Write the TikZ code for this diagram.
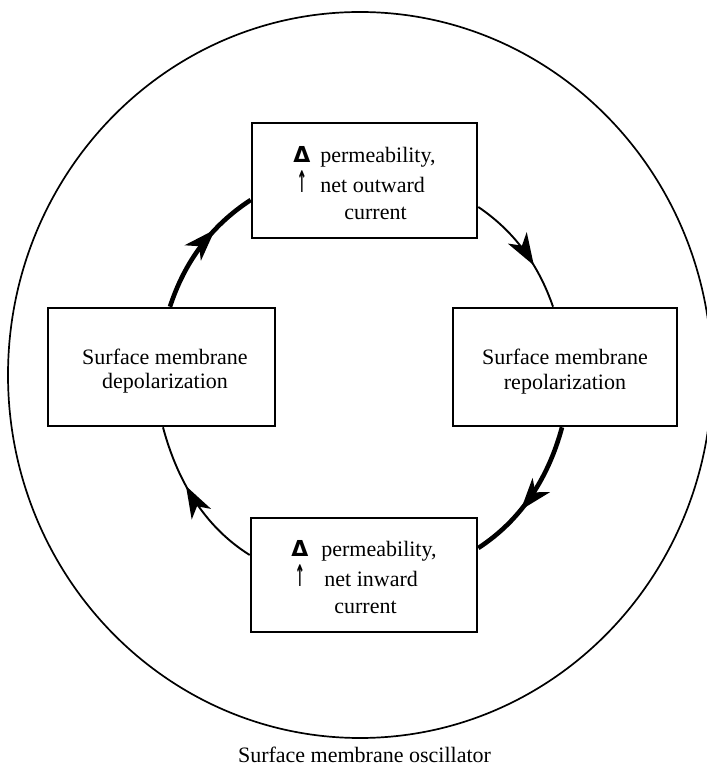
\documentclass[tikz,border=0pt]{standalone}
\usepackage{fontspec}
\setmainfont{Liberation Serif}
\newfontfamily\dejavu{DejaVu Sans}
\usetikzlibrary{arrows.meta,decorations.markings}
\newcommand{\uparr}{{\dejavu\bfseries\scalebox{0.55}[1.35]{↑}}}
\begin{document}
\begin{tikzpicture}[x=1pt,y=1pt,
  box/.style={draw, line width=2.6pt, inner sep=0pt, text height=20pt, text depth=0pt,
    font=\fontsize{22}{27}\selectfont},
  thinarc/.style={line width=1.9pt},
  thickarc/.style={line width=4.6pt},
  midarrow/.style={postaction={decorate}, decoration={markings,
    mark=at position #1 with {\arrow{Stealth[length=32pt,width=22pt,inset=9pt]}}}},
  captext/.style={font=\fontsize{22}{27}\selectfont}]
\useasboundingbox (0,0) rectangle (707,769);
% outer oscillator circle
\draw[line width=1.7pt] (360,394) ellipse [x radius=352, y radius=363];
% boxes
\node[box, minimum width=225pt, minimum height=115pt] (T) at (364.5,588.5)
  {\begin{tabular}{@{}c@{\hspace{10pt}}l@{}}{\dejavu\bfseries Δ} & permeability,\\ \uparr & net outward\\ & \hspace{24pt}current\end{tabular}\hspace{26pt}};
\node[box, minimum width=227pt, minimum height=118pt, font=\fontsize{22}{24}\selectfont] (L) at (161.5,402)
  {\hspace*{7pt}\begin{tabular}{@{}c@{}}Surface membrane\\ depolarization\end{tabular}};
\node[box, minimum width=224pt, minimum height=118pt, font=\fontsize{22}{25}\selectfont] (R) at (565,402)
  {\begin{tabular}{@{}c@{}}Surface membrane\\ repolarization\end{tabular}};
\node[box, minimum width=226pt, minimum height=114pt] (B) at (364,194)
  {\begin{tabular}{@{}c@{\hspace{10pt}}l@{}}{\dejavu\bfseries Δ} & \hspace{3pt}permeability,\\ \uparr & \hspace{6pt}net inward\\ & \hspace{16pt}current\end{tabular}\hspace{22pt}};
% cycle arcs
\draw[thickarc, midarrow=0.66] ([xshift=8.5pt]L.north) to[out=72, in=213, looseness=0.9] ([yshift=-19.5pt]T.west);
\draw[thinarc, midarrow=0.64] ([yshift=-26.5pt]T.east) to[out=-34, in=109, looseness=0.9] ([xshift=-12pt]R.north);
\draw[thickarc, midarrow=0.62] ([xshift=-3pt]R.south) to[out=-105, in=33, looseness=0.9] ([yshift=27pt]B.east);
\draw[thinarc, midarrow=0.6] ([yshift=20pt]B.west) to[out=148, in=285, looseness=0.9] ([xshift=1.5pt]L.south);
% caption
\node[captext, anchor=base] (cap) at (364.5,6) {Surface membrane oscillator};
\end{tikzpicture}
\end{document}
